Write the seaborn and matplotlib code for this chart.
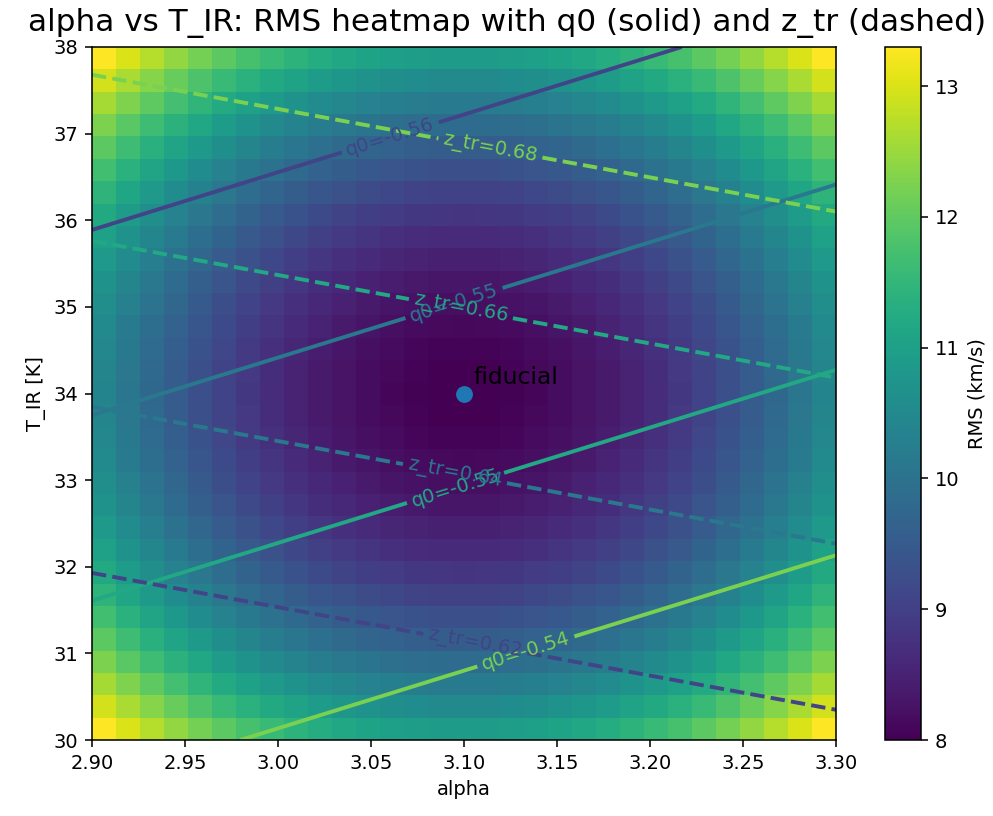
import numpy as np
import matplotlib
matplotlib.use("Agg")
import matplotlib.pyplot as plt
import seaborn as sns

# Grid axes (31 x 31)
alpha = np.linspace(2.9, 3.3, 31)
t_ir = np.linspace(30.0, 38.0, 31)

# RMS: minimum at the fiducial, excess from centre to edge
rms_min = 8.0
rms_alpha_half = [0.0, 0.01, 0.04, 0.10, 0.17, 0.27, 0.38, 0.52,
                  0.68, 0.86, 1.07, 1.29, 1.54, 1.80, 2.09, 2.40]
rms_t_half = [0.0, 0.01, 0.05, 0.12, 0.21, 0.32, 0.46, 0.63,
              0.82, 1.04, 1.29, 1.56, 1.86, 2.18, 2.53, 2.90]

# q0 and z_tr at the four corners (rows: T_IR=30, 38; cols: alpha=2.9, 3.3)
q0_corners = [[-0.54149, -0.53402],
              [-0.56392, -0.55645]]
ztr_corners = [[0.59988, 0.61636],
               [0.68334, 0.69982]]

q0_levels = [-0.558, -0.552, -0.546, -0.540]
ztr_levels = [0.62, 0.64, 0.66, 0.68]

fid_alpha, fid_t = 3.10, 34.0

# label spots for the contour labels
q0_label_pos = [(3.060, 36.98), (3.095, 35.02), (3.095, 32.94), (3.133, 31.04)]
ztr_label_pos = [(3.114, 36.81), (3.098, 34.94), (3.095, 33.06), (3.106, 31.1)]


def mirror(half):
    half = np.asarray(half)
    return np.concatenate([half[::-1], half[1:]])


def bilinear(c):
    c = np.asarray(c)
    wa = (alpha - alpha[0]) / (alpha[-1] - alpha[0])
    wt = (t_ir - t_ir[0]) / (t_ir[-1] - t_ir[0])
    bottom = (1 - wa) * c[0, 0] + wa * c[0, 1]
    top = (1 - wa) * c[1, 0] + wa * c[1, 1]
    return (1 - wt)[:, None] * bottom[None, :] + wt[:, None] * top[None, :]


rms = rms_min + mirror(rms_t_half)[:, None] + mirror(rms_alpha_half)[None, :]
q0 = bilinear(q0_corners)
ztr = bilinear(ztr_corners)

dpi = 140
fig = plt.figure(figsize=(993 / dpi, 816 / dpi), dpi=dpi)
ax = fig.add_axes([92 / 993, 76 / 816, 744 / 993, 693 / 816])
cax = fig.add_axes([885 / 993, 76 / 816, 36 / 993, 693 / 816])

im = ax.imshow(rms, origin="lower", extent=[2.9, 3.3, 30, 38],
               aspect="auto", cmap="viridis", interpolation="nearest")

pal = sns.color_palette("viridis", 4)
cs_q = ax.contour(alpha, t_ir, q0, levels=q0_levels, colors=pal,
                  linewidths=2, linestyles="solid")
cs_z = ax.contour(alpha, t_ir, ztr, levels=ztr_levels, colors=pal,
                  linewidths=2, linestyles="dashed")
ax.clabel(cs_q, fmt="q0=%.2f", fontsize=10, manual=q0_label_pos)
ax.clabel(cs_z, fmt="z_tr=%.2f", fontsize=10, manual=ztr_label_pos)

sns.scatterplot(x=[fid_alpha], y=[fid_t], ax=ax, s=75, color="#1f77b4",
                linewidth=0, zorder=5)
ax.annotate("fiducial", (fid_alpha, fid_t), xytext=(5, 5),
            textcoords="offset points", fontsize=12)

ax.set_xlim(2.9, 3.3)
ax.set_ylim(30, 38)
ax.set_xlabel("alpha")
ax.set_ylabel("T_IR [K]")
ax.set_title("alpha vs T_IR: RMS heatmap with q0 (solid) and z_tr (dashed)",
             fontsize=16, x=(507 - 92) / 744, pad=8)

cb = fig.colorbar(im, cax=cax)
cb.set_label("RMS (km/s)")

fig.savefig("out.png", dpi=dpi)
